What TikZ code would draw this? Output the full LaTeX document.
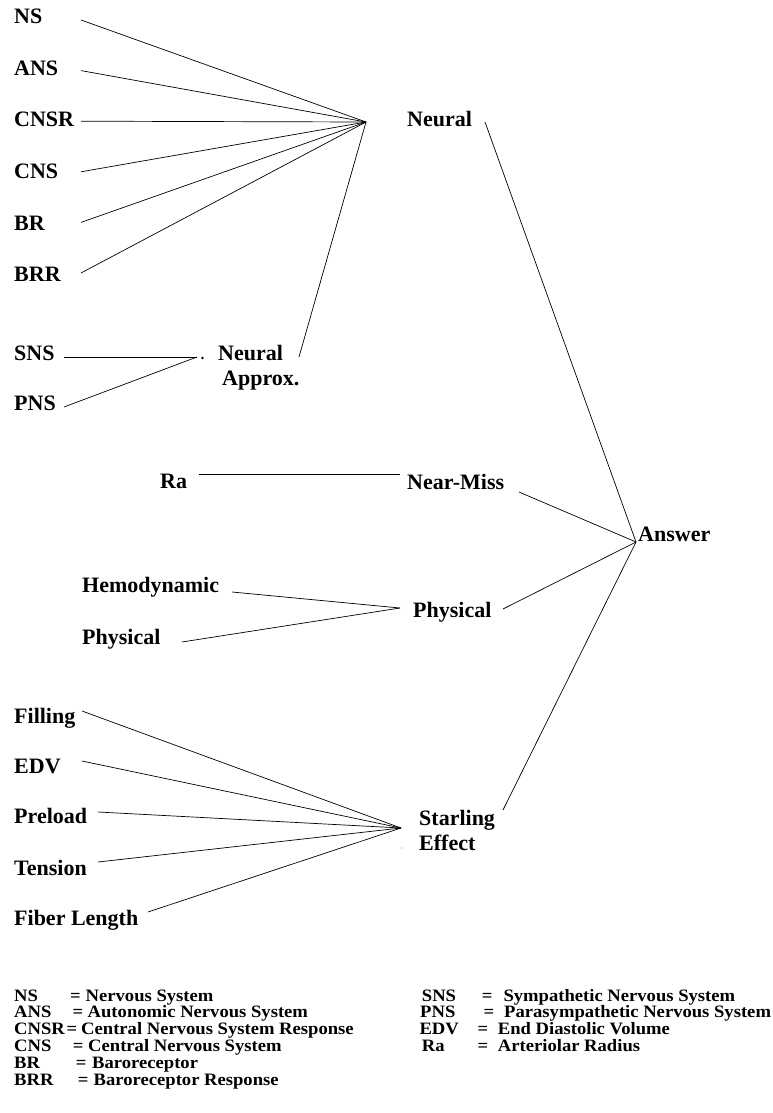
\documentclass[tikz,border=0pt]{standalone}
\usepackage{fontspec}
\setmainfont{Liberation Serif}
\usepackage{graphicx}
\newcommand{\legtxt}[1]{\scalebox{1.07}[1]{#1}}
\begin{document}
\begin{tikzpicture}[x=1pt,y=-1pt,
  lbl/.style={anchor=base west, inner sep=0pt, font=\bfseries\fontsize{22}{26}\selectfont},
  leg/.style={anchor=base west, inner sep=0pt, font=\bfseries\fontsize{17.4}{18}\selectfont},
  wire/.style={line width=0.7pt, draw=black},
  dotnode/.style={circle, fill=black, inner sep=0pt, minimum size=#1}]
\fill[white] (0,0) rectangle (772,1113);
\useasboundingbox (0,0) rectangle (772,1113);

% ---------- top neural group ----------
\node[lbl] (ns)   at (14,24)    {NS};
\node[lbl] (ans)  at (14,75.5)  {ANS};
\node[lbl] (cnsr) at (14,127)   {CNSR};
\node[lbl] (cns)  at (14,178.5) {CNS};
\node[lbl] (br)   at (14,230)   {BR};
\node[lbl] (brr)  at (14,281.5) {BRR};
\coordinate (ns-p)   at ([shift={(67,-4)}]ns.base west);
\coordinate (ans-p)  at ([shift={(67,-4.9)}]ans.base west);
\coordinate (cnsr-p) at ([shift={(67,-5.8)}]cnsr.base west);
\coordinate (cns-p)  at ([shift={(67,-6.7)}]cns.base west);
\coordinate (br-p)   at ([shift={(67,-7.6)}]br.base west);
\coordinate (brr-p)  at ([shift={(67,-8.5)}]brr.base west);
\coordinate (nconv) at (366,122);
\foreach \n in {ns,ans,cnsr,cns,br,brr} \draw[wire] (\n-p) -- (nconv);

% ---------- neural approx ----------
\node[lbl] (sns) at (14,360) {SNS};
\node[lbl] (pns) at (14,410) {PNS};
\coordinate (sns-p) at ([shift={(50,-3)}]sns.base west);
\coordinate (pns-p) at ([shift={(50,-3)}]pns.base west);
\coordinate (aconv) at (197,357);
\node[dotnode=2.6pt] (adot) at (202.5,358) {};
\node[lbl] (napx)  at (218,360) {Neural};
\node[lbl] (napx2) at (222,385) {Approx.};
\coordinate (napx-p) at ([shift={(81,-3)}]napx.base west);
\draw[wire] (sns-p) -- (aconv);
\draw[wire] (pns-p) -- (aconv);
\draw[wire] (napx-p) -- (nconv);

% ---------- neural ----------
\node[lbl] (neural) at (407,127) {Neural};
\coordinate (neural-p) at ([shift={(78,-5)}]neural.base west);

% ---------- answer ----------
\node[lbl] (answer) at (638,541) {Answer};
\coordinate (ansc) at ([shift={(-2,1)}]answer.base west);
\draw[wire] (neural-p) -- (ansc);

% ---------- near-miss ----------
\node[lbl] (ra) at (160,488) {Ra};
\node[lbl] (nm) at (407,489) {Near-Miss};
\coordinate (ra-p) at ([shift={(39,-14)}]ra.base west);
\coordinate (nm-w) at ([shift={(-7,-15)}]nm.base west);
\coordinate (nm-e) at ([shift={(112,3)}]nm.base west);
\draw[wire] (ra-p) -- (nm-w);
\draw[wire] (nm-e) -- (ansc);

% ---------- physical ----------
\node[lbl] (hemo)  at (82,592) {Hemodynamic};
\node[lbl] (physl) at (82,644) {Physical};
\node[lbl] (physr) at (413,617) {Physical};
\coordinate (hemo-p)  at ([shift={(150,0)}]hemo.base west);
\coordinate (physl-p) at ([shift={(100,-2)}]physl.base west);
\coordinate (physr-w) at ([shift={(-13,-9)}]physr.base west);
\coordinate (physr-e) at ([shift={(90,-8)}]physr.base west);
\draw[wire] (hemo-p) -- (physr-w);
\draw[wire] (physl-p) -- (physr-w);
\draw[wire] (physr-e) -- (ansc);

% ---------- starling ----------
\node[lbl] (filling) at (14,723) {Filling};
\node[lbl] (edv)     at (14,773) {EDV};
\node[lbl] (preload) at (14,823) {Preload};
\node[lbl] (tension) at (14,875) {Tension};
\node[lbl] (fiber)   at (14,925) {Fiber Length};
\node[lbl] (starl)   at (419,825) {Starling};
\node[lbl] (effect)  at (419,850) {Effect};
\coordinate (filling-p) at ([shift={(68,-12)}]filling.base west);
\coordinate (edv-p)     at ([shift={(68,-12)}]edv.base west);
\coordinate (preload-p) at ([shift={(84,-11)}]preload.base west);
\coordinate (tension-p) at ([shift={(84,-13)}]tension.base west);
\coordinate (fiber-p)   at ([shift={(134,-13)}]fiber.base west);
\coordinate (sconv)   at ([shift={(-18,3)}]starl.base west);
\coordinate (starl-e) at ([shift={(84,-15)}]starl.base west);
\foreach \n in {filling,edv,preload,tension,fiber} \draw[wire] (\n-p) -- (sconv);
\draw[wire] (starl-e) -- (ansc);
\node[circle, fill=gray, inner sep=0pt, minimum size=1.3pt] (sdot) at (402,848) {};

% ---------- legend left ----------
\node[leg] (l-ns)    at (14,1001)   {\legtxt{NS}};
\node[leg] (l-ns-q)  at (70,1001)   {\legtxt{=}};
\node[leg] (l-ns-d)  at (85.5,1001)   {\legtxt{Nervous System}};
\node[leg] (l-ans)   at (14,1017.8) {\legtxt{ANS}};
\node[leg] (l-ans-q) at (72.3,1017.8) {\legtxt{=}};
\node[leg] (l-ans-d) at (87.5,1017.8) {\legtxt{Autonomic Nervous System}};
\node[leg] (l-cnsr)   at (14,1034.6) {\legtxt{CNSR}};
\node[leg] (l-cnsr-q) at (66.5,1034.6) {\legtxt{=}};
\node[leg] (l-cnsr-d) at (81,1034.6) {\legtxt{Central Nervous System Response}};
\node[leg] (l-cns)   at (14,1051.4) {\legtxt{CNS}};
\node[leg] (l-cns-q) at (72.7,1051.4) {\legtxt{=}};
\node[leg] (l-cns-d) at (88,1051.4) {\legtxt{Central Nervous System}};
\node[leg] (l-br)   at (14,1068.2) {\legtxt{BR}};
\node[leg] (l-br-q) at (75.7,1068.2) {\legtxt{=}};
\node[leg] (l-br-d) at (92,1068.2) {\legtxt{Baroreceptor}};
\node[leg] (l-brr)   at (14,1085) {\legtxt{BRR}};
\node[leg] (l-brr-q) at (77.7,1085) {\legtxt{=}};
\node[leg] (l-brr-d) at (93.5,1085) {\legtxt{Baroreceptor Response}};

% ---------- legend right ----------
\node[leg] (l-sns)   at (421.7,1001) {\legtxt{SNS}};
\node[leg] (l-sns-q) at (481.7,1001) {\legtxt{=}};
\node[leg] (l-sns-d) at (503.3,1001) {\legtxt{Sympathetic Nervous System}};
\node[leg] (l-pns)   at (420,1017.8) {\legtxt{PNS}};
\node[leg] (l-pns-q) at (483.3,1017.8) {\legtxt{=}};
\node[leg] (l-pns-d) at (504,1017.8) {\legtxt{Parasympathetic Nervous System}};
\node[leg] (l-edv)   at (419.3,1034.6) {\legtxt{EDV}};
\node[leg] (l-edv-q) at (477.3,1034.6) {\legtxt{=}};
\node[leg] (l-edv-d) at (497.7,1034.6) {\legtxt{End Diastolic Volume}};
\node[leg] (l-ra)   at (421.7,1051.4) {\legtxt{Ra}};
\node[leg] (l-ra-q) at (477.3,1051.4) {\legtxt{=}};
\node[leg] (l-ra-d) at (497.7,1051.4) {\legtxt{Arteriolar Radius}};
\end{tikzpicture}
\end{document}
